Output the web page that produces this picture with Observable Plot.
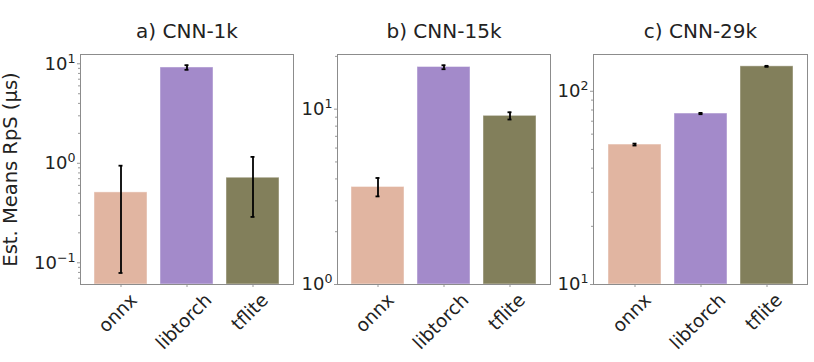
<!DOCTYPE html>
<html>
<head>
<meta charset="utf-8">
<script src="https://cdn.jsdelivr.net/npm/d3@7"></script>
<script src="https://cdn.jsdelivr.net/npm/@observablehq/plot@0.6"></script>
<style>
  html, body { margin: 0; padding: 0; background: #fff; }
  #wrap { position: relative; width: 814px; height: 362px; overflow: hidden; }
  #wrap svg { position: absolute; top: 0; }
</style>
</head>
<body>
<div id="wrap"></div>
<script>
const frameworks = ["onnx", "libtorch", "tflite"];
const colors = ["#e1b5a1", "#a38aca", "#827f5b"];
const panelTitles = ["a) CNN-1k", "b) CNN-15k", "c) CNN-29k"];
const yLabel = "Est. Means RpS (μs)";

// estimated means and error-bar extents per panel (μs)
const means1k = [0.51, 9.18, 0.716];
const low1k = [0.079, 8.7, 0.289];
const high1k = [0.946, 9.68, 1.16];

const means15k = [3.6, 17.4, 9.16];
const low15k = [3.18, 16.9, 8.73];
const high15k = [4.05, 17.8, 9.6];

const means29k = [53, 76.7, 134.6];
const low29k = [52.4, 76.1, 133.8];
const high29k = [53.6, 77.3, 135.4];

const yTicks1k = [0.1, 1, 10];
const yTicks15k = [1, 10];
const yTicks29k = [10, 100];
// tick label: base and exponent (rendered as superscript)
const yTickExp = {0.1: "−1", 1: "0", 10: "1", 100: "2"};

const domains = [[0.0605, 12.4], [1.0, 20.5], [10, 155]];

const panels = [
  {means: means1k, low: low1k, high: high1k, ticks: yTicks1k},
  {means: means15k, low: low15k, high: high15k, ticks: yTicks15k},
  {means: means29k, low: low29k, high: high29k, ticks: yTicks29k}
];

// layout of each svg: left position, width, left/right margins
const layout = [
  {left: 0, width: 300, ml: 80, mr: 7},
  {left: 300, width: 256, ml: 37, mr: 6},
  {left: 556, width: 258, ml: 37, mr: 7}
];

const FONT = "'DejaVu Sans', sans-serif";
const FS_TITLE = 20;
const FS_YLAB = 19.5;
const FS_TICK = 18;
const FS_X = 18.5;

const canvas = document.createElement("canvas");
const ctx = canvas.getContext("2d");
ctx.font = `${FS_X}px 'DejaVu Sans'`;
function tw(s) { return ctx.measureText(s).width; }

function minorTicks(domain) {
  const out = [];
  for (let e = -3; e <= 4; e++) {
    for (let m = 2; m <= 9; m++) {
      const v = m * Math.pow(10, e);
      if (v >= domain[0] && v <= domain[1]) out.push(v);
    }
  }
  return out;
}

const wrap = document.getElementById("wrap");

panels.forEach((p, i) => {
  const L = layout[i];
  const rows = frameworks.map((f, j) => ({
    fw: f, mean: p.means[j], lo: p.low[j], hi: p.high[j]
  }));
  const dom = domains[i];
  const xLabelMarks = frameworks.map(f => {
    const w = tw(f);
    const half = (w + FS_X) / (2 * Math.SQRT2);
    return Plot.text([f], {
      x: d => d, frameAnchor: "bottom", rotate: -45,
      textAnchor: "middle", lineAnchor: "middle",
      dy: 6 + half, dx: -3,
      fontSize: FS_X, fill: "#222"
    });
  });
  const marks = [
    Plot.barY(rows, {
      x: "fw", y1: dom[0], y2: "mean", fill: "fw",
      stroke: "white", strokeOpacity: 0.45, strokeWidth: 1
    }),
    Plot.ruleX(rows, {x: "fw", y1: "lo", y2: "hi", stroke: "#000", strokeWidth: 1.8}),
    Plot.tickY(rows, {x: "fw", y: "lo", stroke: "#000", strokeWidth: 1.8, insetLeft: 24.5, insetRight: 24.5}),
    Plot.tickY(rows, {x: "fw", y: "hi", stroke: "#000", strokeWidth: 1.8, insetLeft: 24.5, insetRight: 24.5}),
    Plot.axisY({ticks: minorTicks(dom), tickSize: 2, tickFormat: null, stroke: "#999", text: null}),
    Plot.axisY({ticks: p.ticks, tickSize: 3, tickPadding: 2, tickFormat: d => "10^" + yTickExp[d],
      fontSize: FS_TICK, fill: "#222", stroke: "#999", label: null, ariaLabel: "y-major"}),
    Plot.axisX({tickSize: 3, tickFormat: null, text: null, stroke: "#999", label: null}),
    ...xLabelMarks,
    Plot.frame({stroke: "#8c8c8c", strokeWidth: 1}),
    Plot.text([panelTitles[i]], {frameAnchor: "top", dy: -17, lineAnchor: "bottom", fontSize: FS_TITLE, fill: "#222"})
  ];
  if (i === 0) {
    marks.push(Plot.text([yLabel], {frameAnchor: "left", dx: -70, rotate: -90, fontSize: FS_YLAB, fill: "#222",
      textAnchor: "middle", lineAnchor: "middle"}));
  }
  const svg = Plot.plot({
    width: L.width,
    height: 362,
    marginLeft: L.ml,
    marginRight: L.mr,
    marginTop: 54,
    marginBottom: 78,
    style: {fontFamily: FONT, fontSize: FS_TICK + "px", background: "transparent", overflow: "visible"},
    x: {type: "band", domain: frameworks, padding: 0.2, align: 0.5, axis: null},
    y: {type: "log", domain: dom, axis: null},
    color: {domain: frameworks, range: colors},
    marks
  });
  // render "10^e" labels as base + raised smaller exponent
  svg.querySelectorAll("text").forEach(t => {
    const s = t.textContent;
    const m = /^10\^(.+)$/.exec(s);
    if (!m) return;
    t.textContent = "10";
    const ts = document.createElementNS("http://www.w3.org/2000/svg", "tspan");
    ts.setAttribute("font-size", "0.7em");
    ts.setAttribute("dy", "-0.55em");
    ts.textContent = m[1];
    t.appendChild(ts);
  });
  svg.style.left = L.left + "px";
  wrap.appendChild(svg);
});
</script>
</body>
</html>
